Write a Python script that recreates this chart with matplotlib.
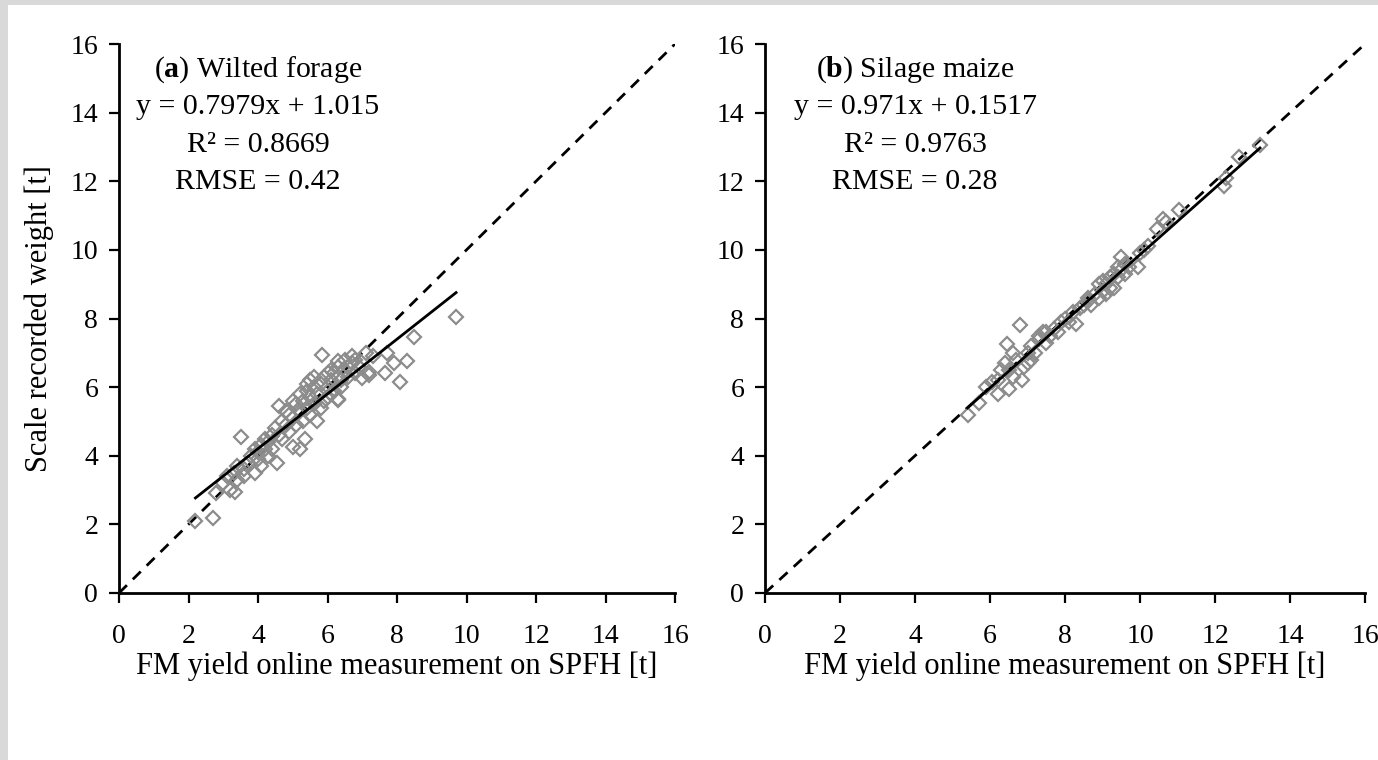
import matplotlib.pyplot as plt
from matplotlib.patches import Rectangle

plt.rcParams['font.family'] = ['Liberation Serif', 'DejaVu Serif']
plt.rcParams['mathtext.fontset'] = 'custom'
plt.rcParams['mathtext.rm'] = 'Liberation Serif'
plt.rcParams['mathtext.bf'] = 'Liberation Serif:bold'

# (a) wilted forage: online measurement vs scale weight [t]
wf_x = [2.2, 2.7, 2.8, 3.0, 3.1, 3.2, 3.3, 3.4, 3.5, 3.6, 3.7, 3.9, 4.0, 4.0, 4.1,
        4.2, 4.3, 4.3, 4.55, 4.4, 4.5, 4.6, 4.6, 4.7, 4.8, 4.9, 4.9, 5.0, 5.0, 5.1,
        5.1, 5.2, 5.2, 5.3, 5.3, 5.35, 5.4, 5.4, 5.5, 5.5, 5.6, 5.6, 5.7, 5.7, 5.8,
        5.85, 5.9, 5.9, 6.0, 6.0, 6.1, 6.1, 6.2, 6.2, 6.3, 6.3, 6.4, 6.4, 6.5, 6.5,
        6.6, 6.7, 6.8, 6.9, 7.0, 7.2, 7.2, 7.3, 7.65, 7.7, 7.9, 8.1, 8.3, 8.5, 9.7,
        3.4, 3.8, 3.9, 4.2, 4.4, 4.7, 4.8, 5.0, 5.2, 5.4, 5.5, 5.6, 5.8, 6.0, 6.1,
        6.3, 6.6, 6.8, 4.1, 3.6, 6.7, 6.3, 7.1, 6.3, 3.34]
wf_y = [2.1, 2.2, 2.9, 3.2, 3.4, 3.0, 3.5, 3.3, 4.55, 3.6, 3.8, 3.5, 4.1, 3.9, 4.3,
        4.2, 4.4, 4.0, 3.8, 4.6, 4.8, 5.45, 4.6, 5.0, 4.9, 5.2, 4.7, 4.26, 5.1, 5.5,
        4.9, 5.3, 5.8, 5.6, 5.0, 4.5, 5.9, 5.4, 5.7, 6.2, 5.5, 6.0, 5.0, 5.8, 6.1,
        6.94, 5.6, 6.3, 6.0, 5.7, 6.5, 6.2, 6.4, 5.9, 5.65, 6.6, 6.2, 6.0, 6.5, 6.8,
        6.3, 6.7, 6.4, 6.6, 6.27, 6.36, 6.45, 6.9, 6.4, 7.0, 6.7, 6.15, 6.75, 7.45, 8.05,
        3.7, 4.0, 4.2, 4.5, 4.2, 4.5, 5.3, 5.6, 4.2, 6.1, 5.2, 6.3, 5.4, 6.4, 5.8,
        6.3, 6.6, 6.8, 3.7, 3.4, 6.9, 6.75, 7.0, 5.63, 2.95]

# (b) silage maize
sm_x = [5.4, 5.7, 6.05, 6.2, 6.4, 6.45, 6.5, 6.5, 6.6, 6.7, 6.8, 6.85, 6.9, 7.0, 7.0,
        7.1, 7.1, 7.2, 7.3, 7.4, 7.5, 7.5, 7.6, 7.7, 7.8, 7.9, 8.0, 8.1, 8.2, 8.3,
        8.4, 8.5, 8.6, 8.7, 8.8, 8.9, 8.9, 9.0, 9.0, 9.1, 9.2, 9.2, 9.3, 9.3, 9.4,
        9.4, 9.5, 9.5, 9.6, 9.6, 9.7, 9.95, 10.0, 10.1, 10.2, 10.45, 10.6, 10.7, 11.05, 12.25,
        12.3, 12.65, 13.2, 6.3, 6.6, 6.2, 5.9, 7.3, 8.6, 9.1]
sm_y = [5.2, 5.55, 6.15, 5.8, 6.7, 7.25, 5.95, 6.5, 6.3, 6.8, 7.8, 6.2, 6.6, 7.0, 6.7,
        7.2, 6.8, 7.0, 7.4, 7.6, 7.3, 7.6, 7.5, 7.7, 7.6, 7.9, 8.0, 7.9, 8.2, 7.85,
        8.3, 8.4, 8.5, 8.4, 8.7, 8.6, 9.0, 8.8, 9.1, 9.0, 8.9, 9.2, 8.9, 9.3, 9.2,
        9.5, 9.4, 9.8, 9.6, 9.3, 9.5, 9.5, 9.9, 10.0, 10.1, 10.6, 10.9, 10.8, 11.15, 11.85,
        12.1, 12.7, 13.05, 6.5, 7.0, 6.2, 6.0, 7.5, 8.6, 8.7]

panels = [
    dict(x=wf_x, y=wf_y, slope=0.7979, icpt=1.015, tag='a', name='Wilted forage',
         eq='y = 0.7979x + 1.015', r2='0.8669', rmse='0.42'),
    dict(x=sm_x, y=sm_y, slope=0.971, icpt=0.1517, tag='b', name='Silage maize',
         eq='y = 0.971x + 0.1517', r2='0.9763', rmse='0.28'),
]

fig = plt.figure(figsize=(13.78, 7.6), dpi=100)
fig.patch.set_facecolor('#d9d9d9')
fig.patches.append(Rectangle((8 / 1378, 0), 1, 1 - 5 / 760, transform=fig.transFigure,
                             facecolor='white', edgecolor='none', zorder=-1))

boxes = [[119 / 1378, 167 / 760, 556 / 1378, 549 / 760],
         [765 / 1378, 167 / 760, 600 / 1378, 549 / 760]]

for i, (p, box) in enumerate(zip(panels, boxes)):
    ax = fig.add_axes(box)
    ax.set_facecolor('none')
    ax.plot([0, 16], [0, 16], color='black', lw=2, ls=(0, (4, 3)), zorder=2)
    ax.plot(p['x'], p['y'], ls='none', marker='D', ms=7.5, mfc='none', mec='#8c8c8c',
            mew=1.6, zorder=3)
    x0, x1 = min(p['x']), max(p['x'])
    ax.plot([x0, x1], [p['slope'] * x0 + p['icpt'], p['slope'] * x1 + p['icpt']],
            color='black', lw=2, zorder=4)
    ax.set_xlim(0, 16)
    ax.set_ylim(0, 16)
    ax.set_xticks(range(0, 17, 2))
    ax.set_yticks(range(0, 17, 2))
    for s in ['top', 'right']:
        ax.spines[s].set_visible(False)
    for s in ['left', 'bottom']:
        ax.spines[s].set_linewidth(2)
    ax.tick_params(direction='out', length=7, width=1.6, labelsize=20)
    ax.tick_params(axis='x', pad=15)
    ax.tick_params(axis='y', pad=8)
    ax.set_xlabel('FM yield online measurement on SPFH [t]', fontsize=22, labelpad=2)
    if i == 0:
        ax.set_ylabel('Scale recorded weight [t]', fontsize=22, labelpad=12)
    lines = [r'($\mathbf{%s}$) %s' % (p['tag'], p['name']), p['eq'],
             'R² = ' + p['r2'], 'RMSE = ' + p['rmse']]
    for k, t in enumerate(lines):
        ax.text(4.0, 15.25 - k * 1.09, t, fontsize=21.5, ha='center', va='center')

fig.savefig('out.png', dpi=100)
